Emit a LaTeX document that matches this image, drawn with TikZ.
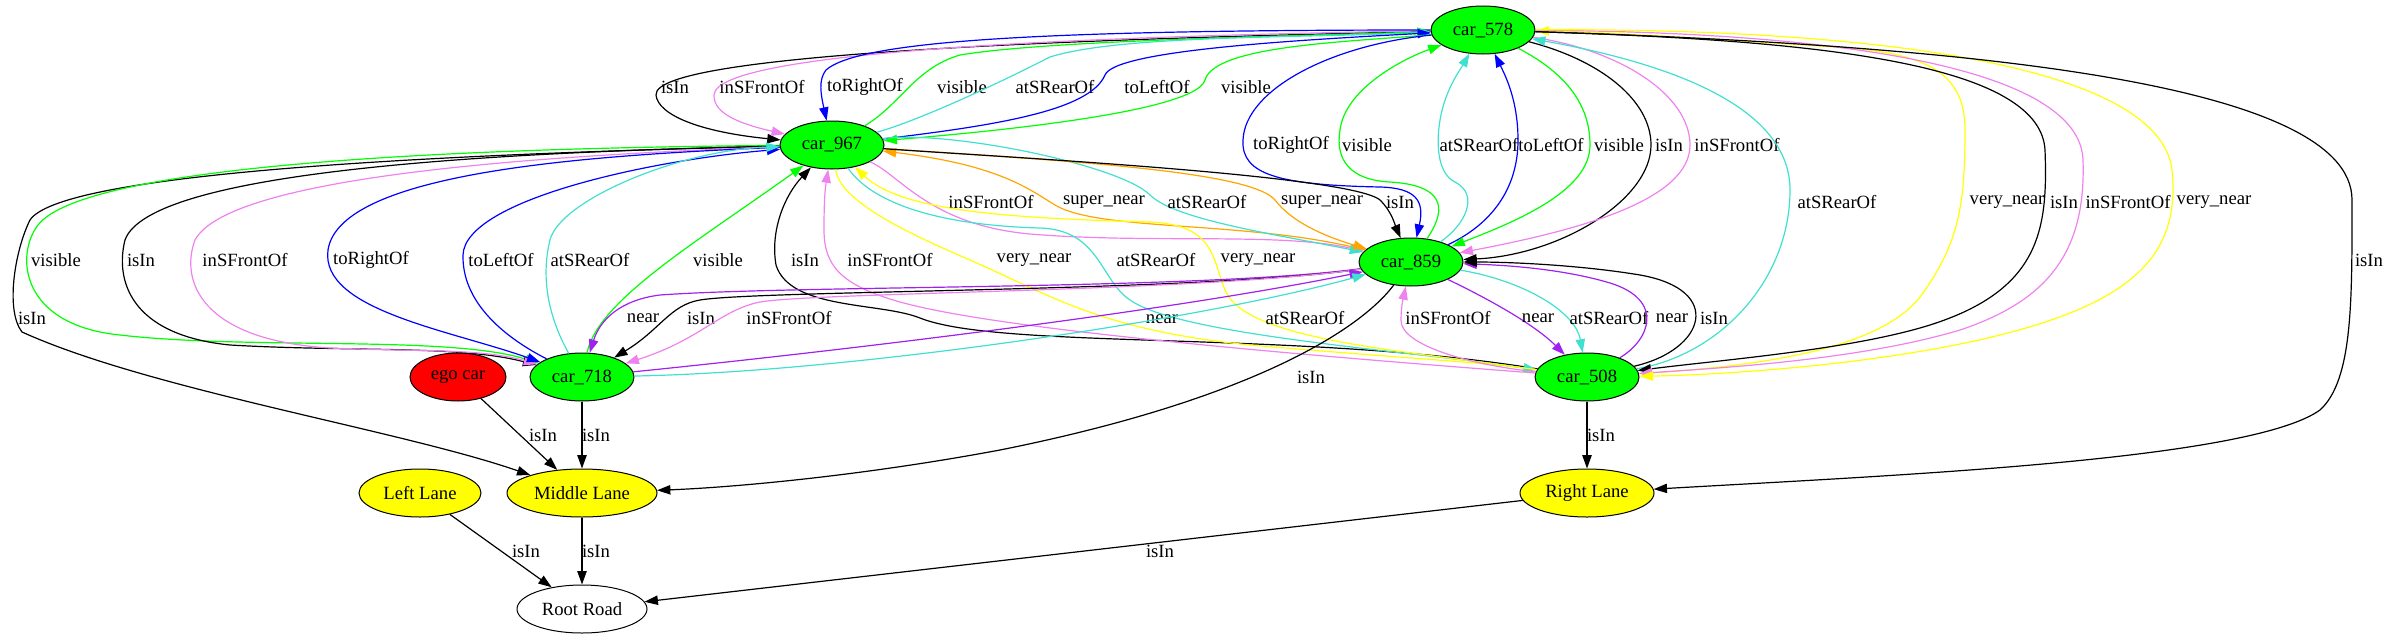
\documentclass[tikz,border=0pt]{standalone}
\usepackage{fontspec}
\setmainfont{Liberation Serif}
\usetikzlibrary{shapes.geometric, arrows.meta}

\definecolor{gvgreen}{HTML}{00FF00}
\definecolor{gvred}{HTML}{FF0000}
\definecolor{gvyellow}{HTML}{FFFF00}
\definecolor{gvblue}{HTML}{0000FF}
\definecolor{gvviolet}{HTML}{EE82EE}
\definecolor{gvturquoise}{HTML}{40E0D0}
\definecolor{gvorange}{HTML}{FFA500}
\definecolor{gvpurple}{HTML}{A020F0}

\tikzset{
	obj/.style = {ellipse, draw, line width = 0.75pt, inner sep = 0pt, minimum height = 36pt, font = \fontsize{14}{16}\selectfont},
	car/.style = {obj, fill = gvgreen, minimum width = 78pt},
	lane/.style = {obj, fill = gvyellow},
	rel/.style = {line width = 0.9pt, -{Triangle[length = 10pt, width = 7pt]}},
	lbl/.style = {inner sep = 0pt, text = black, font = \fontsize{14}{16}\selectfont},
	isin/.style = {rel, black},
	infront/.style = {rel, gvviolet},
	toright/.style = {rel, gvblue},
	toleft/.style = {rel, gvblue},
	vis/.style = {rel, gvgreen},
	rear/.style = {rel, gvturquoise},
	supernear/.style = {rel, gvorange},
	verynear/.style = {rel, gvyellow},
	nearby/.style = {rel, gvpurple}
}

\begin{document}
\begin{tikzpicture}[x = 0.75pt, y = -0.75pt]

	\useasboundingbox (0, 0) rectangle (2387, 639);

	% Nodes

	\node [car] (car578) at (1483, 30) {car\_578};
	\node [car] (car967) at (832, 145) {car\_967};
	\node [car] (car859) at (1411, 262) {car\_859};
	\node [car] (car718) at (582, 377) {car\_718};
	\node [car] (car508) at (1587, 377) {car\_508};
	\node [obj, fill = gvred, minimum width = 72pt] (egocar) at (458, 377) {ego car};
	\node [lane, minimum width = 91.5pt] (leftlane) at (420, 493) {Left Lane};
	\node [lane, minimum width = 112.5pt] (middlelane) at (582, 493) {Middle Lane};
	\node [lane, minimum width = 100.5pt] (rightlane) at (1587, 493) {Right Lane};
	\node [obj, fill = white, minimum width = 97.5pt] (rootroad) at (582, 609) {Root Road};

	% car_578 and car_967

	\draw [isin] (car578) .. controls (1150, 38) and (652, 50) .. (656, 95) .. controls (658, 115) and (700, 132) .. (car967) node [lbl, at = {(675, 87)}] {isIn};
	\draw [infront] (car578) .. controls (1100, 36) and (716, 50) .. (714, 95) .. controls (713, 115) and (745, 125) .. (car967) node [lbl, at = {(762, 87)}] {inSFrontOf};
	\draw [toright] (car578) .. controls (1050, 30) and (860, 40) .. (826, 70) .. controls (818, 80) and (821, 95) .. (car967) node [lbl, at = {(865, 87)}] {toRightOf};
	\draw [vis] (car967) .. controls (900, 105) and (915, 68) .. (960, 55) .. controls (1050, 40) and (1300, 36) .. (car578) node [lbl, at = {(962, 87)}] {visible};
	\draw [rear] (car967) .. controls (920, 120) and (995, 85) .. (1050, 57) .. controls (1120, 35) and (1300, 38) .. (car578) node [lbl, at = {(1055, 87)}] {atSRearOf};
	\draw [toleft] (car967) .. controls (1000, 125) and (1090, 110) .. (1105, 75) .. controls (1115, 50) and (1300, 40) .. (car578) node [lbl, at = {(1157, 87)}] {toLeftOf};
	\draw [vis] (car578) .. controls (1350, 42) and (1215, 45) .. (1205, 80) .. controls (1195, 115) and (950, 135) .. (car967) node [lbl, at = {(1246, 87)}] {visible};

	% car_967 and car_718

	\draw [isin] (car967) .. controls (400, 155) and (60, 175) .. (30, 220) .. controls (15, 250) and (5, 310) .. (22, 332) .. controls (150, 390) and (400, 430) .. (middlelane) node [lbl, at = {(32, 318)}] {isIn};
	\draw [vis] (car967) .. controls (450, 148) and (85, 165) .. (38, 225) .. controls (15, 255) and (20, 325) .. (120, 335) .. controls (250, 350) and (450, 335) .. (car718) node [lbl, at = {(56, 260)}] {visible};
	\draw [isin] (car967) .. controls (500, 152) and (150, 170) .. (125, 240) .. controls (115, 280) and (130, 335) .. (230, 345) .. controls (350, 352) and (460, 345) .. (car718) node [lbl, at = {(141, 260)}] {isIn};
	\draw [infront] (car967) .. controls (550, 155) and (230, 175) .. (195, 240) .. controls (180, 280) and (200, 340) .. (330, 348) .. controls (420, 352) and (480, 348) .. (car718) node [lbl, at = {(245, 260)}] {inSFrontOf};
	\draw [toright] (car967) .. controls (600, 155) and (340, 170) .. (328, 250) .. controls (320, 310) and (450, 330) .. (car718) node [lbl, at = {(371, 260)}] {toRightOf};
	\draw [toleft] (car718) .. controls (500, 335) and (462, 300) .. (463, 255) .. controls (465, 200) and (650, 160) .. (car967) node [lbl, at = {(501, 260)}] {toLeftOf};
	\draw [rear] (car718) .. controls (550, 320) and (540, 280) .. (550, 240) .. controls (560, 200) and (680, 150) .. (car967) node [lbl, at = {(590, 260)}] {atSRearOf};
	\draw [vis] (car718) .. controls (598, 300) and (700, 240) .. (car967) node [lbl, at = {(718, 260)}] {visible};

	% car_578 and car_859

	\draw [toright] (car578) .. controls (1330, 45) and (1245, 90) .. (1243, 140) .. controls (1241, 175) and (1280, 185) .. (1380, 187) .. controls (1415, 188) and (1425, 200) .. (car859) node [lbl, at = {(1291, 145)}] {toRightOf};
	\draw [vis] (car859) .. controls (1450, 205) and (1440, 185) .. (1390, 182) .. controls (1350, 180) and (1335, 160) .. (1340, 130) .. controls (1345, 90) and (1400, 60) .. (car578) node [lbl, at = {(1367, 145)}] {visible};
	\draw [rear] (car859) .. controls (1465, 225) and (1480, 195) .. (1455, 182) .. controls (1440, 175) and (1435, 150) .. (1440, 120) .. controls (1445, 90) and (1460, 70) .. (car578) node [lbl, at = {(1479, 145)}] {atSRearOf};
	\draw [toleft] (car859) .. controls (1490, 225) and (1518, 190) .. (1518, 140) .. controls (1518, 100) and (1505, 75) .. (car578) node [lbl, at = {(1551, 145)}] {toLeftOf};
	\draw [vis] (car578) .. controls (1560, 70) and (1590, 100) .. (1590, 145) .. controls (1590, 190) and (1520, 220) .. (car859) node [lbl, at = {(1619, 145)}] {visible};
	\draw [isin] (car578) .. controls (1600, 60) and (1651, 100) .. (1651, 145) .. controls (1651, 200) and (1560, 255) .. (car859) node [lbl, at = {(1669, 145)}] {isIn};
	\draw [infront] (car578) .. controls (1620, 50) and (1690, 95) .. (1690, 145) .. controls (1690, 200) and (1580, 230) .. (car859) node [lbl, at = {(1737, 145)}] {inSFrontOf};

	% car_967 and car_859

	\draw [infront] (car967) .. controls (900, 175) and (930, 225) .. (1030, 234) .. controls (1150, 244) and (1280, 232) .. (car859) node [lbl, at = {(991, 202)}] {inSFrontOf};
	\draw [supernear] (car859) .. controls (1250, 220) and (1100, 232) .. (1055, 205) .. controls (1030, 190) and (1000, 165) .. (car967) node [lbl, at = {(1104, 202)}] {super\_near};
	\draw [rear] (car967) .. controls (950, 130) and (1120, 165) .. (1150, 195) .. controls (1175, 220) and (1280, 235) .. (car859) node [lbl, at = {(1207, 202)}] {atSRearOf};
	\draw [supernear] (car967) .. controls (1050, 160) and (1250, 170) .. (1275, 200) .. controls (1290, 220) and (1320, 235) .. (car859) node [lbl, at = {(1322, 202)}] {super\_near};
	\draw [isin] (car967) .. controls (1000, 157) and (1350, 175) .. (1380, 200) .. controls (1392, 212) and (1395, 225) .. (car859) node [lbl, at = {(1400, 202)}] {isIn};

	% car_967 and car_508

	\draw [isin] (car508) .. controls (1300, 330) and (1000, 350) .. (920, 318) .. controls (880, 302) and (790, 310) .. (776, 265) .. controls (770, 230) and (785, 195) .. (car967) node [lbl, at = {(805, 260)}] {isIn};
	\draw [infront] (car508) .. controls (1300, 355) and (1000, 330) .. (900, 302) .. controls (840, 285) and (824, 265) .. (824, 230) .. controls (824, 200) and (825, 190) .. (car967) node [lbl, at = {(890, 260)}] {inSFrontOf};
	\draw [verynear] (car967) .. controls (840, 200) and (900, 230) .. (970, 260) .. controls (1050, 295) and (1100, 330) .. (1250, 345) .. controls (1400, 358) and (1480, 362) .. (car508) node [lbl, at = {(1034, 260)}] {very\_near};
	\draw [rear] (car967) .. controls (870, 200) and (930, 225) .. (1040, 228) .. controls (1100, 230) and (1100, 280) .. (1130, 300) .. controls (1180, 335) and (1400, 350) .. (car508) node [lbl, at = {(1156, 260)}] {atSRearOf};
	\draw [verynear] (car508) .. controls (1400, 350) and (1245, 340) .. (1225, 290) .. controls (1212, 258) and (1215, 225) .. (1150, 222) .. controls (1000, 218) and (900, 210) .. (car967) node [lbl, at = {(1258, 260)}] {very\_near};

	% car_718 and car_859

	\draw [nearby] (car859) .. controls (1200, 290) and (800, 285) .. (660, 295) .. controls (620, 300) and (600, 320) .. (car718) node [lbl, at = {(643, 318)}] {near};
	\draw [isin] (car859) .. controls (1200, 292) and (760, 290) .. (700, 300) .. controls (670, 305) and (660, 330) .. (car718) node [lbl, at = {(701, 318)}] {isIn};
	\draw [infront] (car859) .. controls (1200, 292) and (820, 292) .. (760, 302) .. controls (720, 310) and (700, 340) .. (car718) node [lbl, at = {(789, 318)}] {inSFrontOf};
	\draw [nearby] (car718) .. controls (800, 355) and (1150, 315) .. (car859) node [lbl, at = {(1162, 319)}] {near};
	\draw [rear] (car718) .. controls (850, 372) and (1200, 320) .. (car859) node [lbl, at = {(1305, 318)}] {atSRearOf};

	% car_859 and car_508

	\draw [infront] (car508) .. controls (1470, 365) and (1400, 345) .. (1401, 320) .. controls (1401, 305) and (1404, 295) .. (car859) node [lbl, at = {(1448, 318)}] {inSFrontOf};
	\draw [nearby] (car859) .. controls (1470, 290) and (1530, 320) .. (car508) node [lbl, at = {(1538, 318)}] {near};
	\draw [rear] (car859) .. controls (1520, 280) and (1575, 310) .. (car508) node [lbl, at = {(1609, 318)}] {atSRearOf};
	\draw [nearby] (car508) .. controls (1650, 340) and (1665, 300) .. (1610, 283) .. controls (1560, 268) and (1500, 265) .. (car859) node [lbl, at = {(1672, 318)}] {near};
	\draw [isin] (car508) .. controls (1705, 350) and (1725, 290) .. (1640, 275) .. controls (1580, 265) and (1510, 262) .. (car859) node [lbl, at = {(1714, 318)}] {isIn};

	% car_578 and car_508

	\draw [rear] (car508) .. controls (1720, 355) and (1790, 280) .. (1790, 190) .. controls (1790, 100) and (1650, 60) .. (car578) node [lbl, at = {(1837, 202)}] {atSRearOf};
	\draw [verynear] (car508) .. controls (1780, 365) and (1890, 345) .. (1925, 290) .. controls (1960, 240) and (1965, 200) .. (1965, 130) .. controls (1965, 75) and (1930, 55) .. (1850, 48) .. controls (1700, 38) and (1600, 32) .. (car578) node [lbl, at = {(2007, 202)}] {very\_near};
	\draw [isin] (car578) .. controls (1800, 40) and (2040, 60) .. (2045, 150) .. controls (2048, 230) and (2040, 290) .. (1930, 325) .. controls (1850, 350) and (1720, 360) .. (car508) node [lbl, at = {(2064, 202)}] {isIn};
	\draw [infront] (car578) .. controls (1850, 32) and (2080, 70) .. (2083, 160) .. controls (2086, 250) and (2050, 300) .. (1960, 330) .. controls (1860, 360) and (1720, 368) .. (car508) node [lbl, at = {(2128, 202)}] {inSFrontOf};
	\draw [verynear] (car578) .. controls (1900, 28) and (2160, 70) .. (2172, 170) .. controls (2180, 250) and (2140, 300) .. (2000, 335) .. controls (1880, 365) and (1720, 375) .. (car508) node [lbl, at = {(2214, 202)}] {very\_near};

	% Lanes and road

	\draw [isin] (car578) .. controls (1950, 45) and (2352, 80) .. (2352, 200) .. controls (2352, 300) and (2353, 380) .. (2320, 410) .. controls (2250, 460) and (1900, 475) .. (rightlane) node [lbl, at = {(2369, 260)}] {isIn};
	\draw [isin] (car859) .. controls (1360, 330) and (1250, 400) .. (1000, 450) .. controls (850, 478) and (720, 488) .. (middlelane) node [lbl, at = {(1311, 377)}] {isIn};
	\draw [isin] (egocar) -- (middlelane) node [lbl, at = {(543, 435)}] {isIn};
	\draw [isin] (car718) -- (middlelane) node [lbl, at = {(596, 435)}] {isIn};
	\draw [isin] (car508) -- (rightlane) node [lbl, at = {(1601, 435)}] {isIn};
	\draw [isin] (leftlane) -- (rootroad) node [lbl, at = {(526, 551)}] {isIn};
	\draw [isin] (middlelane) -- (rootroad) node [lbl, at = {(596, 551)}] {isIn};
	\draw [isin] (rightlane) -- (rootroad) node [lbl, at = {(1160, 551)}] {isIn};

\end{tikzpicture}
\end{document}
